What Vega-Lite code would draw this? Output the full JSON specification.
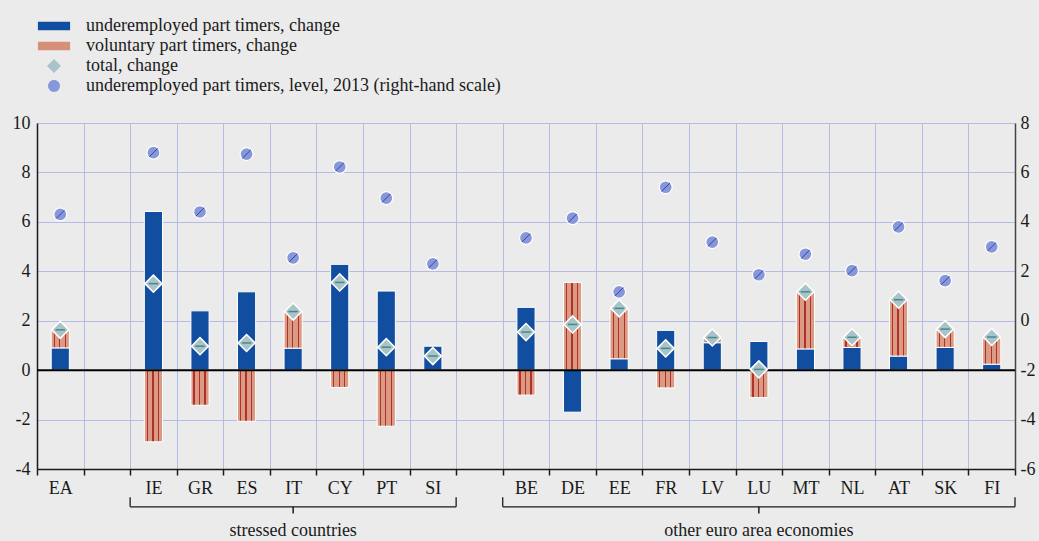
{
  "$schema": "https://vega.github.io/schema/vega-lite/v6.json",
  "width": 978,
  "height": 346,
  "autosize": "none",
  "padding": {"left": 37, "top": 123, "right": 24, "bottom": 72},
  "background": "#ebebeb",
  "config": {
    "view": {"stroke": null},
    "font": "Liberation Serif",
    "axis": {"labelFont": "Liberation Serif", "labelFontSize": 18, "labelColor": "#1a1a1a", "titleFont": "Liberation Serif"},
    "legend": {"labelFont": "Liberation Serif", "labelFontSize": 18, "labelColor": "#1a1a1a", "labelLimit": 0}
  },
  "datasets": {
    "bars": [
      {"c": "EA", "series": "underemployed part timers, change", "v": 0.9},
      {"c": "EA", "series": "voluntary part timers, change", "v": 0.7},
      {"c": "IE", "series": "underemployed part timers, change", "v": 6.42},
      {"c": "IE", "series": "voluntary part timers, change", "v": -2.9},
      {"c": "GR", "series": "underemployed part timers, change", "v": 2.4},
      {"c": "GR", "series": "voluntary part timers, change", "v": -1.42},
      {"c": "ES", "series": "underemployed part timers, change", "v": 3.17},
      {"c": "ES", "series": "voluntary part timers, change", "v": -2.07},
      {"c": "IT", "series": "underemployed part timers, change", "v": 0.89},
      {"c": "IT", "series": "voluntary part timers, change", "v": 1.47},
      {"c": "CY", "series": "underemployed part timers, change", "v": 4.28},
      {"c": "CY", "series": "voluntary part timers, change", "v": -0.7},
      {"c": "PT", "series": "underemployed part timers, change", "v": 3.2},
      {"c": "PT", "series": "voluntary part timers, change", "v": -2.27},
      {"c": "SI", "series": "underemployed part timers, change", "v": 0.97},
      {"c": "BE", "series": "underemployed part timers, change", "v": 2.54},
      {"c": "BE", "series": "voluntary part timers, change", "v": -1.01},
      {"c": "DE", "series": "underemployed part timers, change", "v": -1.7},
      {"c": "DE", "series": "voluntary part timers, change", "v": 3.55},
      {"c": "EE", "series": "underemployed part timers, change", "v": 0.46},
      {"c": "EE", "series": "voluntary part timers, change", "v": 2.01},
      {"c": "FR", "series": "underemployed part timers, change", "v": 1.61},
      {"c": "FR", "series": "voluntary part timers, change", "v": -0.72},
      {"c": "LV", "series": "underemployed part timers, change", "v": 1.11},
      {"c": "LV", "series": "voluntary part timers, change", "v": 0.17},
      {"c": "LU", "series": "underemployed part timers, change", "v": 1.16},
      {"c": "LU", "series": "voluntary part timers, change", "v": -1.11},
      {"c": "MT", "series": "underemployed part timers, change", "v": 0.86},
      {"c": "MT", "series": "voluntary part timers, change", "v": 2.29},
      {"c": "NL", "series": "underemployed part timers, change", "v": 0.92},
      {"c": "NL", "series": "voluntary part timers, change", "v": 0.38},
      {"c": "AT", "series": "underemployed part timers, change", "v": 0.57},
      {"c": "AT", "series": "voluntary part timers, change", "v": 2.25},
      {"c": "SK", "series": "underemployed part timers, change", "v": 0.92},
      {"c": "SK", "series": "voluntary part timers, change", "v": 0.7},
      {"c": "FI", "series": "underemployed part timers, change", "v": 0.24},
      {"c": "FI", "series": "voluntary part timers, change", "v": 1.06}
    ],
    "total": [
      {"c": "EA", "series": "total, change", "v": 1.63},
      {"c": "IE", "series": "total, change", "v": 3.5},
      {"c": "GR", "series": "total, change", "v": 0.97},
      {"c": "ES", "series": "total, change", "v": 1.1},
      {"c": "IT", "series": "total, change", "v": 2.37},
      {"c": "CY", "series": "total, change", "v": 3.55},
      {"c": "PT", "series": "total, change", "v": 0.93},
      {"c": "SI", "series": "total, change", "v": 0.57},
      {"c": "BE", "series": "total, change", "v": 1.54},
      {"c": "DE", "series": "total, change", "v": 1.85},
      {"c": "EE", "series": "total, change", "v": 2.5},
      {"c": "FR", "series": "total, change", "v": 0.88},
      {"c": "LV", "series": "total, change", "v": 1.32},
      {"c": "LU", "series": "total, change", "v": 0.03},
      {"c": "MT", "series": "total, change", "v": 3.17},
      {"c": "NL", "series": "total, change", "v": 1.33},
      {"c": "AT", "series": "total, change", "v": 2.85},
      {"c": "SK", "series": "total, change", "v": 1.66},
      {"c": "FI", "series": "total, change", "v": 1.34}
    ],
    "level": [
      {"c": "EA", "series": "underemployed part timers, level, 2013 (right-hand scale)", "v": 4.3},
      {"c": "IE", "series": "underemployed part timers, level, 2013 (right-hand scale)", "v": 6.8},
      {"c": "GR", "series": "underemployed part timers, level, 2013 (right-hand scale)", "v": 4.4},
      {"c": "ES", "series": "underemployed part timers, level, 2013 (right-hand scale)", "v": 6.74},
      {"c": "IT", "series": "underemployed part timers, level, 2013 (right-hand scale)", "v": 2.54},
      {"c": "CY", "series": "underemployed part timers, level, 2013 (right-hand scale)", "v": 6.22},
      {"c": "PT", "series": "underemployed part timers, level, 2013 (right-hand scale)", "v": 4.96},
      {"c": "SI", "series": "underemployed part timers, level, 2013 (right-hand scale)", "v": 2.3},
      {"c": "BE", "series": "underemployed part timers, level, 2013 (right-hand scale)", "v": 3.35},
      {"c": "DE", "series": "underemployed part timers, level, 2013 (right-hand scale)", "v": 4.15},
      {"c": "EE", "series": "underemployed part timers, level, 2013 (right-hand scale)", "v": 1.17},
      {"c": "FR", "series": "underemployed part timers, level, 2013 (right-hand scale)", "v": 5.4},
      {"c": "LV", "series": "underemployed part timers, level, 2013 (right-hand scale)", "v": 3.18},
      {"c": "LU", "series": "underemployed part timers, level, 2013 (right-hand scale)", "v": 1.86},
      {"c": "MT", "series": "underemployed part timers, level, 2013 (right-hand scale)", "v": 2.69},
      {"c": "NL", "series": "underemployed part timers, level, 2013 (right-hand scale)", "v": 2.03},
      {"c": "AT", "series": "underemployed part timers, level, 2013 (right-hand scale)", "v": 3.8},
      {"c": "SK", "series": "underemployed part timers, level, 2013 (right-hand scale)", "v": 1.62},
      {"c": "FI", "series": "underemployed part timers, level, 2013 (right-hand scale)", "v": 2.99}
    ],
    "groups": [
      {"grp": "stressed countries", "first": "IE", "last": "SI", "mid": "IT"},
      {"grp": "other euro area economies", "first": "BE", "last": "FI", "mid": "LU"}
    ]
  },
  "layer": [
    {
      "layer": [
        {
          "data": {"name": "bars"},
          "mark": {"type": "bar", "width": {"band": 0.39}, "stroke": "white", "strokeWidth": 1},
          "encoding": {
            "x": {
              "field": "c", "type": "nominal",
              "scale": {"domain": ["EA", " ", "IE", "GR", "ES", "IT", "CY", "PT", "SI", "  ", "BE", "DE", "EE", "FR", "LV", "LU", "MT", "NL", "AT", "SK", "FI"], "paddingInner": 0, "paddingOuter": 0},
              "axis": {"title": null, "labelAngle": 0, "labelFont": "Liberation Serif", "labelFontSize": 18, "tickBand": "extent", "grid": true, "gridColor": "#b4bce6", "gridWidth": 1, "domainColor": "#1a1a1a", "domainWidth": 1.5, "tickColor": "#1a1a1a", "tickSize": 6, "tickWidth": 1.5, "labelPadding": 4}
            },
            "y": {
              "field": "v", "type": "quantitative", "stack": "zero",
              "scale": {"domain": [-4, 10], "nice": false, "zero": false},
              "axis": {"title": null, "orient": "left", "values": [-4, -2, 0, 2, 4, 6, 8, 10], "labelExpr": "datum.value", "labelFont": "Liberation Serif", "labelFontSize": 18, "grid": true, "gridColor": "#b4bce6", "gridWidth": 1, "domainColor": "#1a1a1a", "domainWidth": 1.5, "ticks": false, "labelPadding": 7}
            },
            "detail": {"field": "series"},
            "order": {"field": "series", "sort": "ascending"},
            "fill": {
              "condition": {
                "test": "datum.series === 'voluntary part timers, change'",
                "value": {"gradient": "linear", "x1": 0, "y1": 0, "x2": 1, "y2": 0, "stops": [
                  {"offset": 0, "color": "#da9a84"}, {"offset": 0.14, "color": "#da9a84"},
                  {"offset": 0.14, "color": "#b0302a"}, {"offset": 0.21, "color": "#b0302a"},
                  {"offset": 0.21, "color": "#da9a84"}, {"offset": 0.44, "color": "#da9a84"},
                  {"offset": 0.44, "color": "#b0302a"}, {"offset": 0.51, "color": "#b0302a"},
                  {"offset": 0.51, "color": "#da9a84"}, {"offset": 0.74, "color": "#da9a84"},
                  {"offset": 0.74, "color": "#b0302a"}, {"offset": 0.81, "color": "#b0302a"},
                  {"offset": 0.81, "color": "#da9a84"}, {"offset": 1, "color": "#da9a84"}
                ]}
              },
              "value": "#124ea0"
            }
          }
        },
        {
          "data": {"values": [{}]},
          "mark": {"type": "rule", "color": "#000000", "strokeWidth": 2},
          "encoding": {"y": {"datum": 0, "type": "quantitative", "axis": {"title": null}}}
        },
        {
          "data": {"name": "total"},
          "mark": {"type": "point", "shape": "diamond", "filled": true, "fill": "#a8c4c8", "size": 290, "stroke": "white", "strokeWidth": 1.5, "opacity": 1},
          "encoding": {
            "x": {"field": "c", "type": "nominal", "axis": {"title": null}},
            "y": {"field": "v", "type": "quantitative", "axis": {"title": null}}
          }
        },
        {
          "data": {"name": "total"},
          "mark": {"type": "point", "shape": "M-0.55,0H0.55", "filled": false, "size": 290, "stroke": "#4a878c", "strokeWidth": 1.5, "opacity": 1},
          "encoding": {
            "x": {"field": "c", "type": "nominal", "axis": {"title": null}},
            "y": {"field": "v", "type": "quantitative", "axis": {"title": null}}
          }
        },
        {
          "data": {"name": "groups"},
          "mark": {"type": "rule", "color": "#1a1a1a", "strokeWidth": 1.3},
          "encoding": {
            "x": {"field": "first", "type": "nominal", "bandPosition": 0, "axis": {"title": null}},
            "x2": {"field": "last", "bandPosition": 1},
            "y": {"datum": -5.53, "type": "quantitative", "axis": {"title": null}}
          }
        },
        {
          "data": {"name": "groups"},
          "mark": {"type": "rule", "color": "#1a1a1a", "strokeWidth": 1.3},
          "encoding": {
            "x": {"field": "first", "type": "nominal", "bandPosition": 0, "axis": {"title": null}},
            "y": {"datum": -5.14, "type": "quantitative", "axis": {"title": null}},
            "y2": {"datum": -5.53}
          }
        },
        {
          "data": {"name": "groups"},
          "mark": {"type": "rule", "color": "#1a1a1a", "strokeWidth": 1.3},
          "encoding": {
            "x": {"field": "last", "type": "nominal", "bandPosition": 1, "axis": {"title": null}},
            "y": {"datum": -5.14, "type": "quantitative", "axis": {"title": null}},
            "y2": {"datum": -5.53}
          }
        },
        {
          "data": {"name": "groups"},
          "mark": {"type": "rule", "color": "#1a1a1a", "strokeWidth": 1.5},
          "encoding": {
            "x": {"field": "mid", "type": "nominal", "bandPosition": 0.5, "axis": {"title": null}},
            "y": {"datum": -5.53, "type": "quantitative", "axis": {"title": null}},
            "y2": {"datum": -5.8}
          }
        },
        {
          "data": {"name": "groups"},
          "mark": {"type": "text", "font": "Liberation Serif", "fontSize": 18, "color": "#1a1a1a", "baseline": "middle", "align": "center"},
          "encoding": {
            "x": {"field": "mid", "type": "nominal", "bandPosition": 0.5, "axis": {"title": null}},
            "y": {"datum": -6.5, "type": "quantitative", "axis": {"title": null}},
            "text": {"field": "grp"}
          }
        }
      ]
    },
    {
      "layer": [
        {
          "data": {"name": "level"},
          "mark": {"type": "point", "filled": true, "size": 230, "stroke": "white", "strokeWidth": 1.2, "opacity": 1},
          "encoding": {
            "x": {"field": "c", "type": "nominal", "axis": {"title": null}},
            "y": {
              "field": "v", "type": "quantitative",
              "scale": {"domain": [-6, 8], "nice": false, "zero": false},
              "axis": {"title": null, "orient": "right", "values": [-6, -4, -2, 0, 2, 4, 6, 8], "labelExpr": "datum.value", "labelFont": "Liberation Serif", "labelFontSize": 18, "grid": false, "domainColor": "#444444", "domainWidth": 1.5, "ticks": false, "labelPadding": 5}
            },
            "color": {
              "field": "series", "type": "nominal",
              "scale": {
                "domain": ["underemployed part timers, change", "voluntary part timers, change", "total, change", "underemployed part timers, level, 2013 (right-hand scale)"],
                "range": ["#124ea0", "#d68f78", "#a8c4c8", "#8797da"]
              },
              "legend": {
                "title": null, "orient": "none", "legendX": 8, "legendY": -106,
                "padding": 0, "symbolSize": 196, "labelOffset": 23, "rowPadding": 2,
                "symbolStrokeColor": "white", "symbolStrokeWidth": 1, "symbolOpacity": 1
              }
            },
            "shape": {
              "field": "series", "type": "nominal",
              "scale": {
                "domain": ["underemployed part timers, change", "voluntary part timers, change", "total, change", "underemployed part timers, level, 2013 (right-hand scale)"],
                "range": ["M-2.3,-0.6H2.3V0.6H-2.3Z", "M-2.3,-0.6H2.3V0.6H-2.3Z", "M0,-1L1,0L0,1L-1,0Z", "M-0.85,0A0.85,0.85,0,1,1,0.85,0A0.85,0.85,0,1,1,-0.85,0Z"]
              },
              "legend": {
                "title": null, "orient": "none", "legendX": 8, "legendY": -106,
                "padding": 0, "symbolSize": 196, "labelOffset": 23, "rowPadding": 2,
                "symbolStrokeColor": "white", "symbolStrokeWidth": 1, "symbolOpacity": 1
              }
            }
          }
        },
        {
          "data": {"name": "level"},
          "mark": {"type": "point", "shape": "M-0.55,0.55L0.55,-0.55", "filled": false, "size": 230, "stroke": "#2c4a9e", "strokeWidth": 1, "opacity": 1},
          "encoding": {
            "x": {"field": "c", "type": "nominal", "axis": {"title": null}},
            "y": {"field": "v", "type": "quantitative", "axis": {"title": null}}
          }
        }
      ]
    }
  ],
  "resolve": {"scale": {"y": "independent"}}
}
